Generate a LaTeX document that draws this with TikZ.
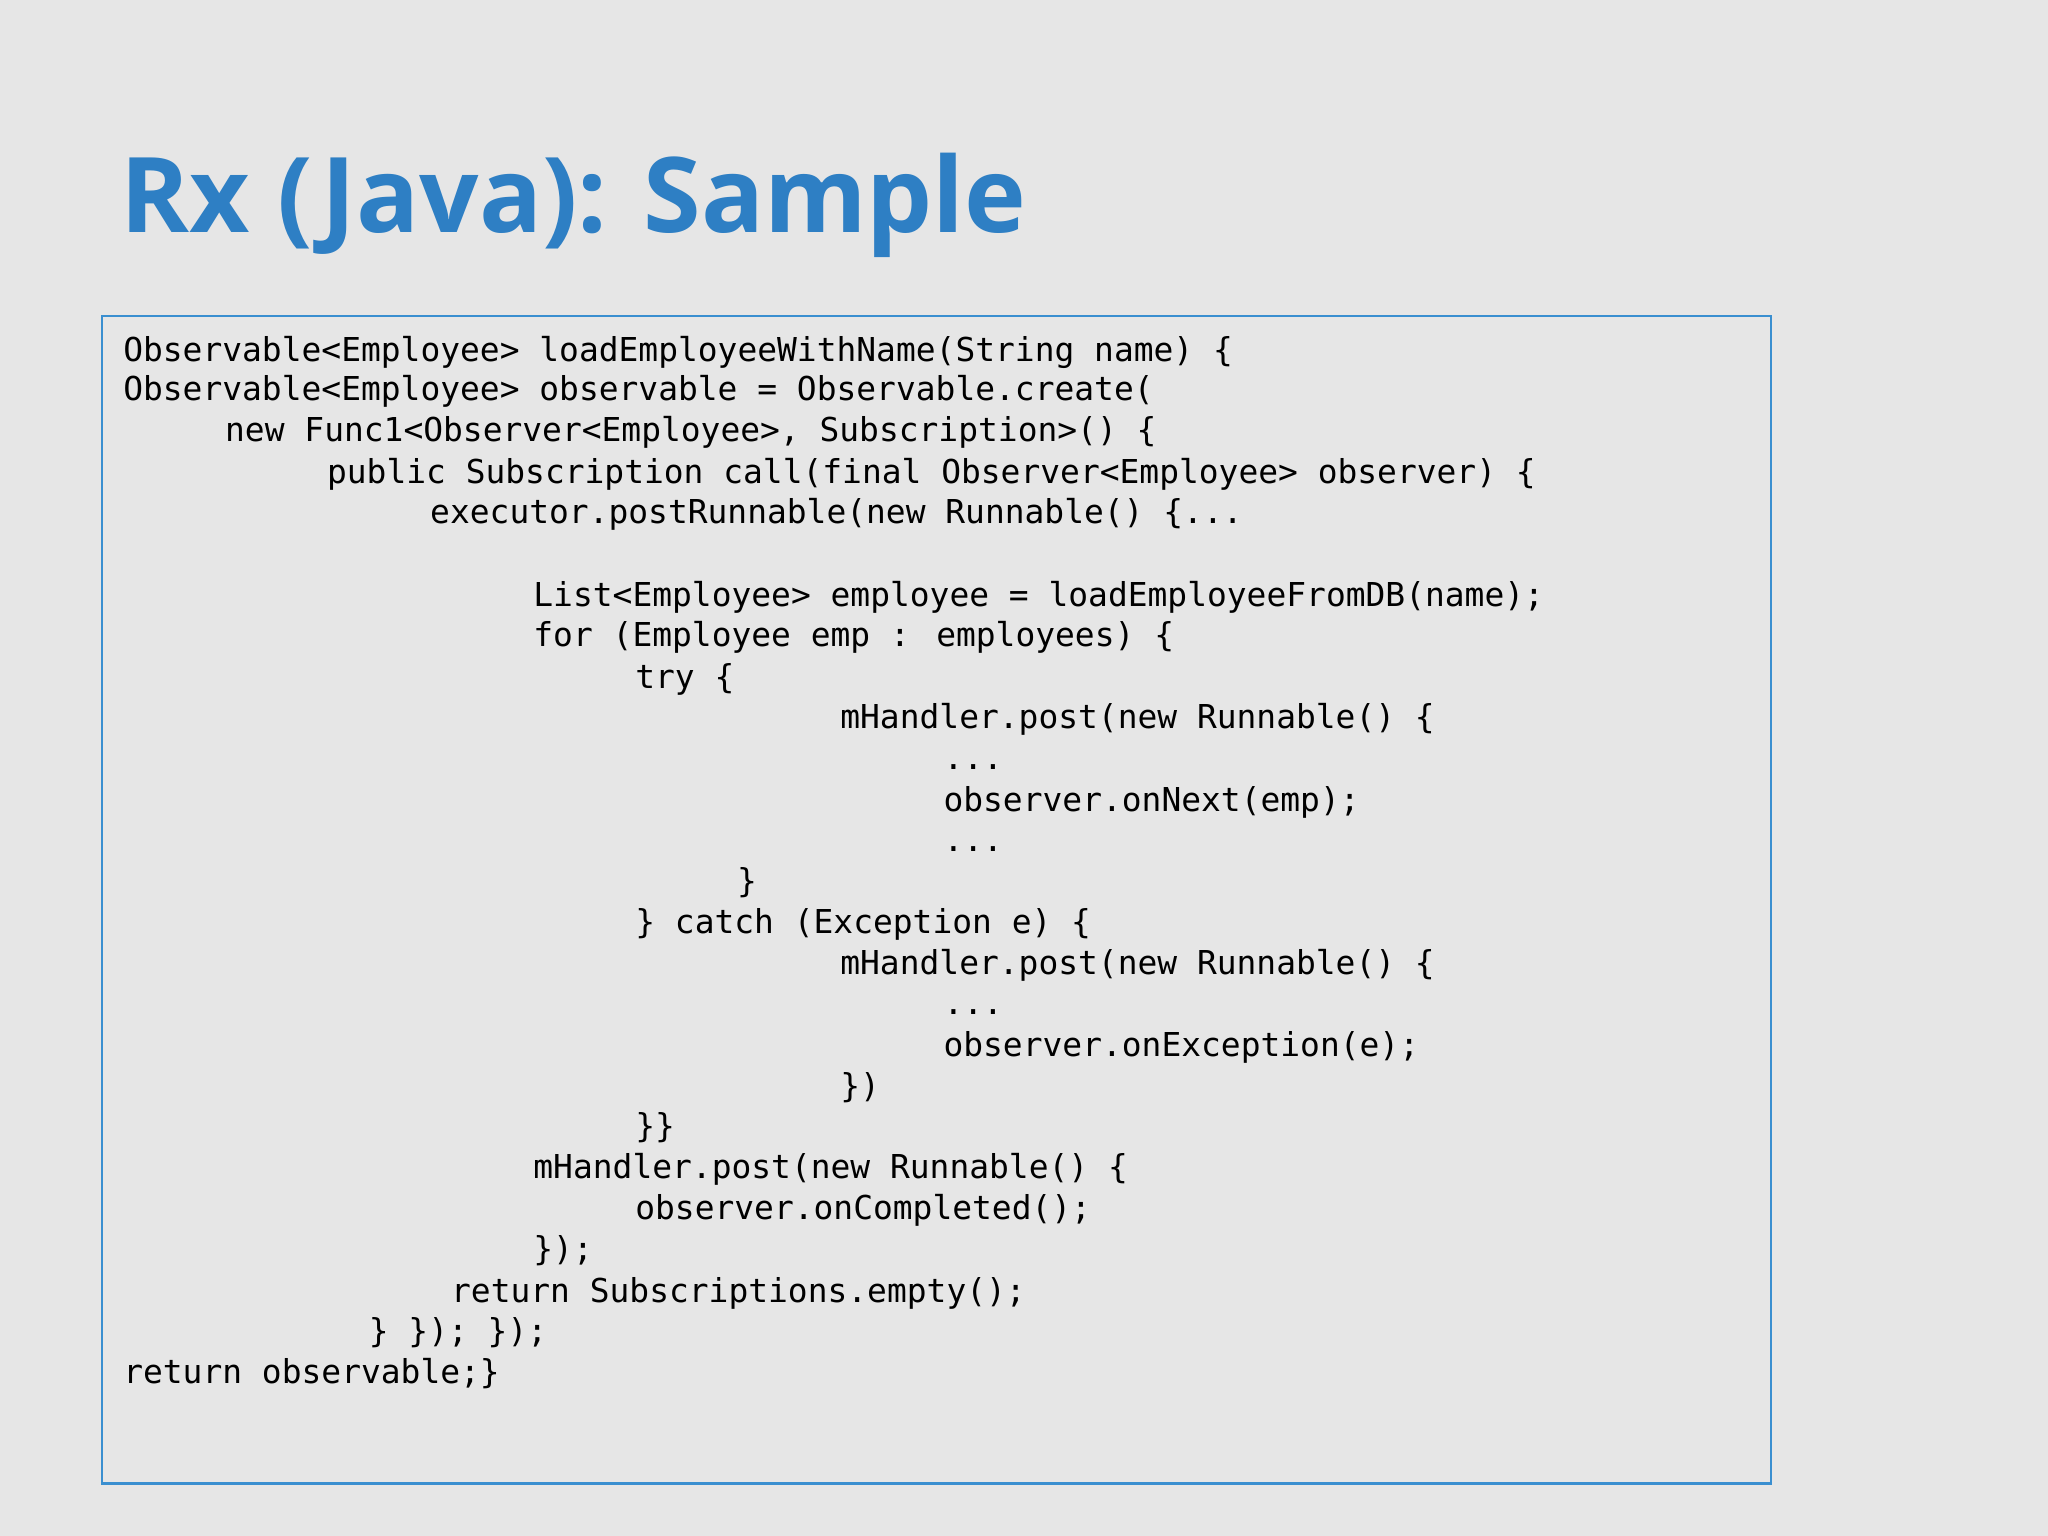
\documentclass[tikz,border=0pt]{standalone}
\usepackage{fontspec}
\setmainfont{Open Sans}
\newfontfamily\codefont{DejaVu Sans Mono}
\definecolor{bg}{HTML}{E6E6E6}
\definecolor{ttl}{HTML}{2E7FC4}
\definecolor{frm}{HTML}{3A8FD0}
\begin{document}
\begin{tikzpicture}[x=0.5pt,y=-0.5pt,
  code/.style={anchor=base west,inner sep=0pt,font=\codefont\fontsize{12.6}{14}\selectfont,text=black}]
\fill[bg] (0,0) rectangle (1568,1176);
\useasboundingbox (0,0) rectangle (1568,1176);
\node[anchor=base west,inner sep=0pt,text=ttl,font=\fontsize{40}{44}\selectfont\bfseries] (title) at (92,178) {Rx (Java): Sample};
\draw[frm,line width=1pt] (78,242) rectangle (1356,1136);
\foreach \x/\y/\t [count=\i] in {
94/277/{Observable<Employee> loadEmployeeWithName(String name) \{},
94/307/{Observable<Employee> observable = Observable.create(},
172/338/{new Func1<Observer<Employee>, Subscription>() \{},
250/370/{public Subscription call(final Observer<Employee> observer) \{},
329/401/{executor.postRunnable(new Runnable() \{...},
408/464/{List<Employee> employee = loadEmployeeFromDB(name);},
408/495/{for (Employee emp : employees) \{},
486/527/{try \{},
643/558/{mHandler.post(new Runnable() \{},
722/589/{...},
722/621/{observer.onNext(emp);},
722/652/{...},
564/683/{\}},
486/715/{\} catch (Exception e) \{},
643/746/{mHandler.post(new Runnable() \{},
722/777/{...},
722/809/{observer.onException(e);},
643/840/{\})},
486/871/{\}\}},
408/902/{mHandler.post(new Runnable() \{},
486/934/{observer.onCompleted();},
408/965/{\});},
345/997/{return Subscriptions.empty();},
282/1028/{\} \}); \});},
94/1059/{return observable;\}}}
  \node[code] (l\i) at (\x,\y) {\t};
\end{tikzpicture}
\end{document}
